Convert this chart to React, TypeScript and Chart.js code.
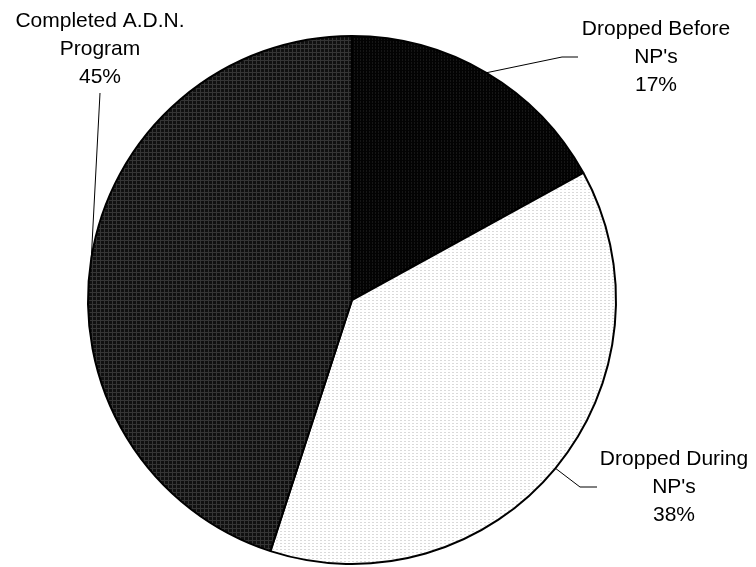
import React, { useEffect, useRef } from "react";
import { Chart, registerables } from "chart.js";

Chart.register(...registerables);

const categories = ["Dropped Before NP's", "Dropped During NP's", "Completed A.D.N. Program"];
const labelLines = [["Dropped Before", "NP's"], ["Dropped During", "NP's"], ["Completed A.D.N.", "Program"]];
const shares = [17, 38, 45];

function makePattern(kind: number): CanvasPattern | string {
  const c = document.createElement("canvas");
  const ctx = c.getContext("2d");
  if (!ctx) return "#000";
  if (kind === 0) {
    c.width = 3; c.height = 3;
    ctx.fillStyle = "#030303"; ctx.fillRect(0, 0, 3, 3);
    ctx.fillStyle = "#161616"; ctx.fillRect(0, 0, 1, 1); ctx.fillRect(0, 2, 1, 1);
  } else if (kind === 1) {
    c.width = 4; c.height = 3;
    ctx.fillStyle = "#ffffff"; ctx.fillRect(0, 0, 4, 3);
    ctx.fillStyle = "#dadada"; ctx.fillRect(0, 0, 2, 1);
  } else {
    c.width = 4; c.height = 4;
    ctx.fillStyle = "#101010"; ctx.fillRect(0, 0, 4, 4);
    ctx.fillStyle = "#353535"; ctx.fillRect(0, 0, 4, 1); ctx.fillRect(0, 0, 1, 4);
  }
  return ctx.createPattern(c, "repeat") || "#000";
}

// label layout: text centre x, middle line y, elbow point, end point
const labelLayout = [
  { tx: 656, ty: 57, pts: [[562, 57], [578, 57]] },
  { tx: 674, ty: 487, pts: [[580, 487], [597, 487]] },
  { tx: 100, ty: 49, pts: [[100, 93]] },
];

const labelPlugin = {
  id: "pieLabels",
  afterDatasetsDraw(chart: any) {
    const ctx = chart.ctx;
    const meta = chart.getDatasetMeta(0);
    ctx.save();
    meta.data.forEach((arc: any, i: number) => {
      const { x, y, startAngle, endAngle, outerRadius } = arc.getProps(["x", "y", "startAngle", "endAngle", "outerRadius"], true);
      const mid = (startAngle + endAngle) / 2;
      const px = x + Math.cos(mid) * outerRadius;
      const py = y + Math.sin(mid) * outerRadius;
      const lay = labelLayout[i];
      ctx.strokeStyle = "#000";
      ctx.lineWidth = 1;
      ctx.beginPath();
      ctx.moveTo(px, py);
      lay.pts.forEach((p) => ctx.lineTo(p[0], p[1]));
      ctx.stroke();
      ctx.fillStyle = "#000";
      ctx.font = "21px 'Liberation Sans', Arial, sans-serif";
      ctx.textAlign = "center";
      ctx.textBaseline = "middle";
      const lines = [...labelLines[i], shares[i] + "%"];
      lines.forEach((t, k) => ctx.fillText(t, lay.tx, lay.ty + (k - 1) * 28));
    });
    ctx.restore();
  },
};

export default function App() {
  const ref = useRef<HTMLCanvasElement>(null);
  useEffect(() => {
    document.body.style.margin = "0";
    if (!ref.current) return;
    const chart = new Chart(ref.current, {
      type: "pie",
      data: {
        labels: categories,
        datasets: [
          {
            data: shares,
            backgroundColor: [makePattern(0), makePattern(1), makePattern(2)],
            borderColor: "#000",
            borderWidth: 2,
          },
        ],
      },
      options: {
        animation: false,
        responsive: false,
        maintainAspectRatio: false,
        layout: { padding: { left: 0, right: 52, top: 35, bottom: 2 } },
        plugins: { legend: { display: false }, tooltip: { enabled: false } },
      },
      plugins: [labelPlugin],
    });
    return () => chart.destroy();
  }, []);
  return (
    <div style={{ width: 756, height: 567, background: "#fff" }}>
      <canvas ref={ref} width={756} height={567} style={{ display: "block" }} />
    </div>
  );
}
